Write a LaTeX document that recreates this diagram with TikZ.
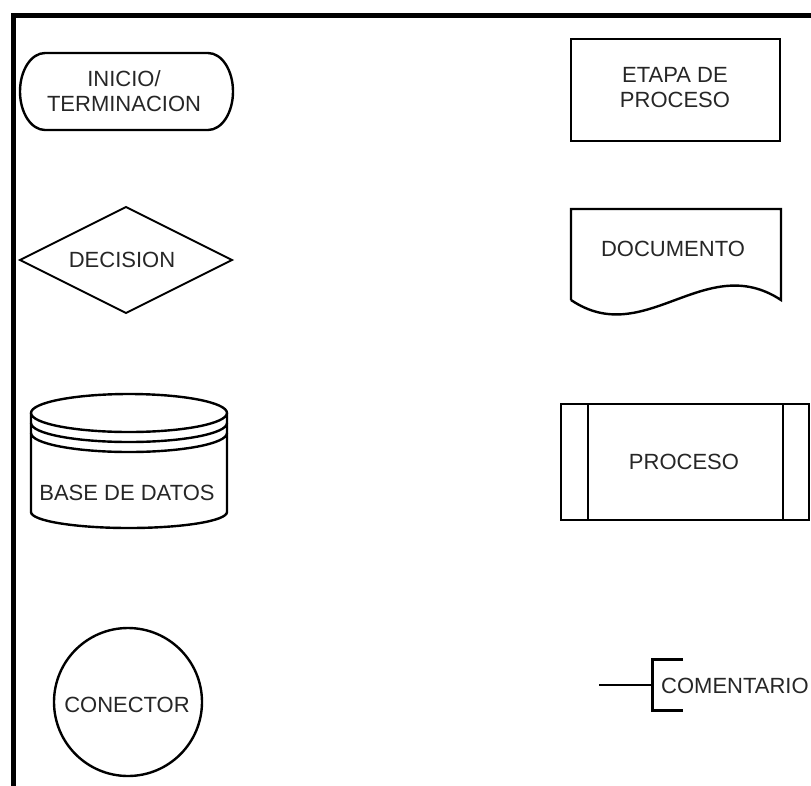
\documentclass[tikz,border=0pt]{standalone}
\usepackage{fontspec}
\setmainfont{Liberation Sans}
\begin{document}
\begin{tikzpicture}[x=1pt,y=-1pt,
  symbol/.style={draw=black, line width=2.4pt, line join=miter},
  lbl/.style={font=\fontsize{22}{25}\selectfont, text=black!85, inner sep=0pt, align=center}]
\useasboundingbox (0,0) rectangle (811,785);
\clip (0,0) rectangle (811,785);

% frame
\draw[line width=5pt] (13.5,790) -- (13.5,15.5) -- (815,15.5);

% start / end terminator
\draw[symbol] (45,53) -- (208,53)
  .. controls (221.8,53) and (233,70.2) .. (233,91.5)
  .. controls (233,112.8) and (221.8,130) .. (208,130)
  -- (45,130)
  .. controls (31.2,130) and (20,112.8) .. (20,91.5)
  .. controls (20,70.2) and (31.2,53) .. cycle;
\node[lbl] (term) at (124,91) {INICIO/\\TERMINACION};

% process step
\draw[symbol] (571,39) rectangle (780,141);
\node[lbl] (etapa) at (675,88) {ETAPA DE\\PROCESO};

% decision
\draw[symbol, line width=1.9pt] (20,260) -- (126,207) -- (232,260) -- (126,313) -- cycle;
\node[lbl] (decision) at (122,260) {DECISION};

% document
\draw[symbol] (571,300) -- (571,209) -- (781,209) -- (781,300)
  .. controls (705,250) and (645,350) .. (571,300);
\node[lbl] (doc) at (673,249) {DOCUMENTO};

% database
\draw[symbol] (129,413) ellipse [x radius=98, y radius=19];
\foreach \d in {10,20}{
  \draw[symbol] (31,413+\d) .. controls (31,423.5+\d) and (74.9,432+\d) .. (129,432+\d)
    .. controls (183.1,432+\d) and (227,423.5+\d) .. (227,413+\d);
}
\draw[symbol] (31,413) -- (31,512)
  .. controls (31,520.8) and (74.9,528) .. (129,528)
  .. controls (183.1,528) and (227,520.8) .. (227,512) -- (227,413);
\node[lbl] (db) at (127,493) {BASE DE DATOS};

% predefined process
\draw[symbol] (561,404) rectangle (809,520);
\draw[symbol] (588,404) -- (588,520);
\draw[symbol] (783,404) -- (783,520);
\node[lbl] (proc) at (684,462) {PROCESO};

% connector
\draw[symbol] (128,702) circle [radius=74];
\node[lbl] (conn) at (127,705) {CONECTOR};

% comment
\node[lbl, anchor=west] (com) at (661,686) {COMENTARIO};
\coordinate (lead) at (599,685);
\coordinate (brk) at (652,685);
\draw[line width=2pt] (lead) -- (brk);
\draw[line width=3pt, line join=miter] (683,659) -- (652,659) -- (652,710) -- (683,710);
\end{tikzpicture}
\end{document}
